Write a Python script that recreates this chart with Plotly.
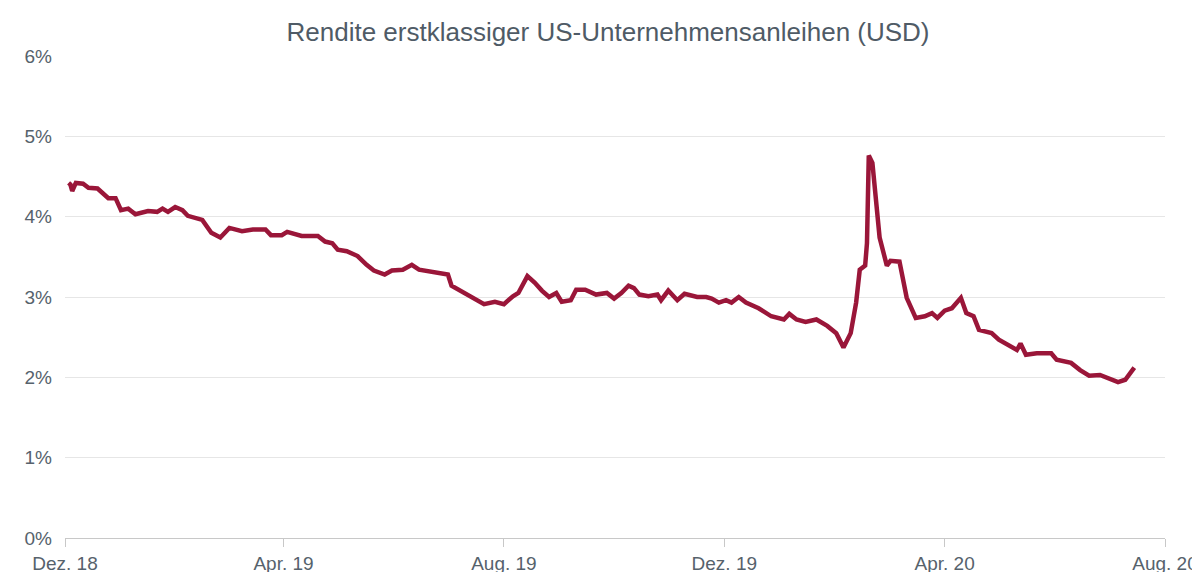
import plotly.graph_objects as go

dates = [
    "2018-12-03", "2018-12-04", "2018-12-05", "2018-12-07", "2018-12-11", "2018-12-14",
    "2018-12-19", "2018-12-25", "2018-12-29", "2019-01-01", "2019-01-05", "2019-01-09",
    "2019-01-16", "2019-01-21", "2019-01-24", "2019-01-27", "2019-01-31", "2019-02-04",
    "2019-02-07", "2019-02-15", "2019-02-20", "2019-02-25", "2019-03-02", "2019-03-09",
    "2019-03-15", "2019-03-22", "2019-03-25", "2019-03-31", "2019-04-03", "2019-04-11",
    "2019-04-20", "2019-04-24", "2019-04-28", "2019-05-01", "2019-05-06", "2019-05-12",
    "2019-05-17", "2019-05-21", "2019-05-27", "2019-05-31", "2019-06-06", "2019-06-11",
    "2019-06-15", "2019-06-25", "2019-07-01", "2019-07-03", "2019-07-08", "2019-07-13",
    "2019-07-17", "2019-07-21", "2019-07-27", "2019-08-01", "2019-08-06", "2019-08-09",
    "2019-08-14", "2019-08-18", "2019-08-22", "2019-08-26", "2019-08-30", "2019-09-02",
    "2019-09-07", "2019-09-10", "2019-09-15", "2019-09-21", "2019-09-27", "2019-10-01",
    "2019-10-05", "2019-10-09", "2019-10-12", "2019-10-15", "2019-10-20", "2019-10-25",
    "2019-10-27", "2019-10-31", "2019-11-05", "2019-11-09", "2019-11-16", "2019-11-21",
    "2019-11-24", "2019-11-28", "2019-12-02", "2019-12-05", "2019-12-09", "2019-12-13",
    "2019-12-20", "2019-12-27", "2020-01-03", "2020-01-06", "2020-01-10", "2020-01-15",
    "2020-01-21", "2020-01-27", "2020-02-01", "2020-02-05", "2020-02-09", "2020-02-12",
    "2020-02-14", "2020-02-17", "2020-02-18", "2020-02-19", "2020-02-21", "2020-02-23",
    "2020-02-25", "2020-02-29", "2020-03-02", "2020-03-07", "2020-03-09", "2020-03-11",
    "2020-03-13", "2020-03-16", "2020-03-21", "2020-03-25", "2020-03-28", "2020-04-01",
    "2020-04-05", "2020-04-08", "2020-04-10", "2020-04-13", "2020-04-17", "2020-04-20",
    "2020-04-27", "2020-05-01", "2020-05-07", "2020-05-11", "2020-05-13", "2020-05-16",
    "2020-05-22", "2020-05-25", "2020-05-30", "2020-06-02", "2020-06-10", "2020-06-15",
    "2020-06-20", "2020-06-26", "2020-07-02", "2020-07-06", "2020-07-10", "2020-07-15",
]
yields = [
    4.42, 4.40, 4.32, 4.42, 4.41, 4.36, 4.35, 4.23, 4.23, 4.08, 4.10, 4.03,
    4.07, 4.06, 4.10, 4.06, 4.12, 4.08, 4.01, 3.96, 3.80, 3.74, 3.86, 3.82,
    3.84, 3.84, 3.77, 3.77, 3.81, 3.76, 3.76, 3.69, 3.67, 3.59, 3.57, 3.51,
    3.40, 3.33, 3.28, 3.33, 3.34, 3.40, 3.34, 3.30, 3.28, 3.14, 3.08, 3.01,
    2.96, 2.91, 2.94, 2.91, 3.01, 3.05, 3.26, 3.18, 3.08, 3.00, 3.05, 2.94,
    2.96, 3.09, 3.09, 3.03, 3.05, 2.98, 3.05, 3.14, 3.11, 3.03, 3.01, 3.03,
    2.96, 3.08, 2.96, 3.04, 3.00, 3.00, 2.98, 2.93, 2.96, 2.93, 3.00, 2.93,
    2.86, 2.76, 2.72, 2.79, 2.72, 2.69, 2.72, 2.64, 2.55, 2.37, 2.55, 2.93,
    3.34, 3.39, 3.67, 4.76, 4.67, 4.23, 3.74, 3.39, 3.45, 3.44, 3.24, 2.99,
    2.89, 2.74, 2.76, 2.80, 2.74, 2.83, 2.86, 2.93, 2.99, 2.80, 2.76, 2.59,
    2.55, 2.47, 2.39, 2.34, 2.42, 2.28, 2.30, 2.30, 2.30, 2.22, 2.18, 2.09,
    2.02, 2.03, 1.97, 1.94, 1.97, 2.12,
]
tick_dates = ["2018-12-01", "2019-04-01", "2019-08-01", "2019-12-01", "2020-04-01", "2020-08-01"]
tick_labels = ["Dez. 18", "Apr. 19", "Aug. 19", "Dez. 19", "Apr. 20", "Aug. 20"]
y_ticks = [0, 1, 2, 3, 4, 5, 6]

fig = go.Figure(
    go.Scatter(
        x=dates,
        y=yields,
        mode="lines",
        line=dict(color="#9a1639", width=4.5),
        hovertemplate="%{x|%d.%m.%Y}: %{y:.2f}%<extra></extra>",
    )
)
fig.update_layout(
    title=dict(
        text="Rendite erstklassiger US-Unternehmensanleihen (USD)",
        x=0.5,
        y=0.975,
        xanchor="center",
        font=dict(size=26, color="#4f5b66"),
    ),
    font=dict(family="Liberation Sans, Arial, sans-serif", size=19, color="#56626c"),
    plot_bgcolor="white",
    paper_bgcolor="white",
    showlegend=False,
    width=1200,
    height=572,
    margin=dict(l=57, r=43, t=48, b=42),
)
fig.update_xaxes(
    range=["2018-12-01", "2020-08-01"],
    tickvals=tick_dates,
    ticktext=tick_labels,
    showgrid=False,
    showline=True,
    linecolor="#c8c8c8",
    ticks="outside",
    tickcolor="#c8c8c8",
    ticklen=8,
    automargin=False,
)
fig.update_yaxes(
    range=[0, 6],
    tickvals=y_ticks,
    ticktext=[f"{v}%" for v in y_ticks],
    gridcolor="#e6e6e6",
    zeroline=False,
    ticks="",
    ticklabelstandoff=12,
    automargin=False,
)
fig.write_html("out.html")
